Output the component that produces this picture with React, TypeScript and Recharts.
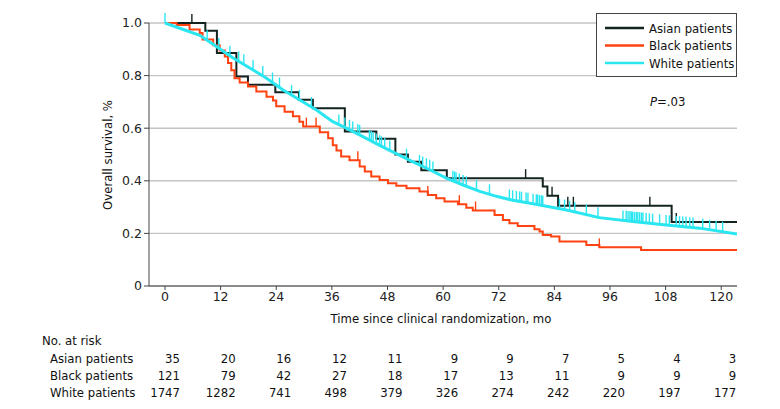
import React from 'react';
import { ComposedChart, Line, Scatter, XAxis, YAxis, CartesianGrid } from 'recharts';

const monthTicks = [0, 12, 24, 36, 48, 60, 72, 84, 96, 108, 120];
const survivalTicks = [0, 0.2, 0.4, 0.6, 0.8, 1.0];
const monthDomain: [number, number] = [-3.45, 123.4];

// Asian patients (Kaplan-Meier steps)
const asianMonths = [0, 8.7, 11.2, 15.4, 17.9, 23.8, 28.9, 31.9, 38.8, 45.6, 49.7, 52.4, 55.3, 60.8, 81.5, 82.5, 84.8, 109.3, 123.4];
const asianSurvival = [1.0, 0.971, 0.886, 0.797, 0.765, 0.737, 0.708, 0.676, 0.587, 0.56, 0.5, 0.472, 0.44, 0.41, 0.378, 0.343, 0.305, 0.243, 0.243];
const asianCensored = [5.8, 77.8, 83.5, 86.9, 88.1, 104.6, 110.3];

// Black patients
const blackMonths = [0, 2.5, 5.3, 7.5, 8.1, 10.4, 11.8, 12.9, 13.6, 14.3, 15.0, 16.1, 17.9, 19.7, 21.9, 23.3, 24.0, 25.8, 27.6, 29.0, 29.8, 33.4, 35.2, 36.2, 37.0, 38.0, 39.8, 42.0, 43.1, 44.5, 46.3, 48.1, 49.9, 52.1, 54.9, 56.7, 58.5, 60.3, 63.2, 65.0, 66.4, 71.1, 72.9, 74.3, 76.1, 79.7, 80.8, 81.5, 83.3, 85.1, 90.9, 93.7, 102.7, 123.4];
const blackSurvival = [1.0, 0.992, 0.975, 0.962, 0.937, 0.915, 0.895, 0.873, 0.848, 0.82, 0.79, 0.774, 0.759, 0.74, 0.72, 0.705, 0.683, 0.663, 0.645, 0.625, 0.606, 0.585, 0.562, 0.535, 0.515, 0.492, 0.478, 0.454, 0.435, 0.416, 0.403, 0.391, 0.381, 0.372, 0.359, 0.346, 0.334, 0.321, 0.311, 0.298, 0.287, 0.27, 0.251, 0.239, 0.228, 0.216, 0.207, 0.194, 0.188, 0.169, 0.156, 0.147, 0.137, 0.137];
const blackCensored = [30.5, 32.6, 41.6, 56.7, 63.5, 67.0, 93.7];

// White patients
const whiteMonths = [0, 3.5, 7.5, 11.1, 14.7, 18.3, 21.9, 25.4, 29.0, 32.6, 36.2, 39.1, 42.7, 46.3, 49.9, 53.5, 57.1, 60.7, 64.3, 67.9, 71.5, 75.0, 79.4, 86.6, 93.7, 100.9, 108.1, 115.3, 123.4];
const whiteSurvival = [1.0, 0.978, 0.953, 0.911, 0.867, 0.829, 0.79, 0.746, 0.708, 0.67, 0.625, 0.6, 0.568, 0.535, 0.503, 0.472, 0.442, 0.41, 0.384, 0.36, 0.341, 0.326, 0.313, 0.289, 0.26, 0.245, 0.232, 0.22, 0.198];
const whiteCensored = [0, 9.1, 11.6, 14.0, 15.9, 17.0, 19.0, 21.1, 23.2, 24.7, 27.3, 29.0, 31.6, 37.5, 38.8, 39.8, 40.5, 41.6, 42.0, 44.1, 44.5, 44.9, 45.6, 46.3, 46.7, 47.4, 48.5, 52.1, 54.9, 55.6, 56.4, 57.1, 57.8, 62.1, 62.5, 62.8, 63.5, 64.3, 65.0, 67.2, 70.0, 74.3, 75.0, 75.8, 76.5, 76.9, 77.9, 78.3, 79.4, 80.1, 80.4, 80.8, 81.2, 81.5, 85.1, 86.2, 87.3, 88.4, 90.9, 93.4, 98.8, 99.5, 99.9, 100.3, 100.6, 100.9, 101.3, 101.7, 102.0, 102.4, 102.8, 103.1, 103.8, 104.5, 105.2, 106.7, 108.1, 108.8, 110.3, 111.0, 111.7, 112.4, 113.2, 113.9, 116.0, 117.5, 118.9, 120.3];

const groupNames = ['Asian patients', 'Black patients', 'White patients'];
const asianAtRisk = [35, 20, 16, 12, 11, 9, 9, 7, 5, 4, 3];
const blackAtRisk = [121, 79, 42, 27, 18, 17, 13, 11, 9, 9, 9];
const whiteAtRisk = [1747, 1282, 741, 498, 379, 326, 274, 242, 220, 197, 177];

const COLORS = ['#13231f', '#ff4211', '#2ae6f0'];
const condensed = "'DejaVu Sans Condensed', 'DejaVu Sans', sans-serif";
const tickFont = "'DejaVu Sans', sans-serif";

// plot box in pixels
const PLOT_LEFT = 149;
const PLOT_RIGHT = 737;
const monthToX = (t: number) =>
  PLOT_LEFT + ((t - monthDomain[0]) / (monthDomain[1] - monthDomain[0])) * (PLOT_RIGHT - PLOT_LEFT);

const toPoints = (months: number[], surv: number[]) => months.map((t, i) => ({ t, s: surv[i] }));

const stepAt = (months: number[], surv: number[], t: number) => {
  let v = surv[0];
  for (let i = 0; i < months.length; i++) if (months[i] <= t) v = surv[i];
  return v;
};

const lineAt = (months: number[], surv: number[], t: number) => {
  for (let i = 1; i < months.length; i++) {
    if (t <= months[i]) {
      const f = (t - months[i - 1]) / (months[i] - months[i - 1]);
      return surv[i - 1] + f * (surv[i] - surv[i - 1]);
    }
  }
  return surv[surv.length - 1];
};

const asianData = toPoints(asianMonths, asianSurvival);
const blackData = toPoints(blackMonths, blackSurvival);
const whiteData = toPoints(whiteMonths, whiteSurvival);

const asianMarks = asianCensored.map(t => ({ t, s: stepAt(asianMonths, asianSurvival, t) }));
const blackMarks = blackCensored.map(t => ({ t, s: stepAt(blackMonths, blackSurvival, t) }));
const whiteMarks = whiteCensored.map(t => ({ t, s: lineAt(whiteMonths, whiteSurvival, t) }));

const censorTick = (color: string, h: number) => (props: any) => {
  const { cx, cy } = props;
  if (cx == null || cy == null) return <g />;
  return <line x1={cx} x2={cx} y1={cy} y2={cy - h} stroke={color} strokeWidth={1.4} />;
};

const riskRows = [asianAtRisk, blackAtRisk, whiteAtRisk];

const App: React.FC = () => {
  return (
    <div style={{ position: 'relative', width: 780, height: 409, background: '#fff', overflow: 'hidden' }}>
      <style>{'body{margin:0;}'}</style>
      <div style={{ position: 'absolute', left: 0, top: 0 }}>
        <ComposedChart width={780} height={326} margin={{ top: 23, right: 43, bottom: 0, left: 0 }}>
          <CartesianGrid vertical={false} stroke="#c4c4c4" strokeWidth={1.4} />
          <XAxis
            type="number"
            dataKey="t"
            domain={monthDomain}
            ticks={monthTicks}
            allowDataOverflow
            height={40}
            tickSize={4}
            stroke="#444"
            tick={{ fontSize: 12.5, fill: '#222', fontFamily: tickFont }}
          />
          <YAxis
            type="number"
            dataKey="s"
            domain={[0, 1]}
            ticks={survivalTicks}
            width={149}
            tickSize={5}
            stroke="#444"
            tickFormatter={(v: number) => (v === 0 ? '0' : v.toFixed(1))}
            tick={{ fontSize: 12.5, fill: '#222', fontFamily: tickFont }}
          />
          <Line data={asianData} dataKey="s" type="stepAfter" stroke={COLORS[0]} strokeWidth={2} dot={false} isAnimationActive={false} />
          <Line data={blackData} dataKey="s" type="stepAfter" stroke={COLORS[1]} strokeWidth={2} dot={false} isAnimationActive={false} />
          <Line data={whiteData} dataKey="s" type="linear" stroke={COLORS[2]} strokeWidth={3} dot={false} isAnimationActive={false} />
          <Scatter data={asianMarks} dataKey="s" shape={censorTick(COLORS[0], 9)} isAnimationActive={false} />
          <Scatter data={blackMarks} dataKey="s" shape={censorTick(COLORS[1], 9)} isAnimationActive={false} />
          <Scatter data={whiteMarks} dataKey="s" shape={censorTick(COLORS[2], 10)} isAnimationActive={false} />
        </ComposedChart>
      </div>
      <svg width={780} height={409} style={{ position: 'absolute', left: 0, top: 0, pointerEvents: 'none' }}>
        <g fontFamily={condensed} fontSize={13} fill="#111" style={{ fontStretch: 'condensed' }}>
          <text transform="translate(112,155) rotate(-90)" textAnchor="middle">Overall survival, %</text>
          <text x={441} y={323} textAnchor="middle">Time since clinical randomization, mo</text>

          {/* legend */}
          <rect x={596.5} y={13.5} width={140} height={63} fill="#fff" stroke="#444" strokeWidth={1} />
          {groupNames.map((name, i) => (
            <g key={name}>
              <line x1={605} x2={644} y1={28 + i * 17.5} y2={28 + i * 17.5} stroke={COLORS[i]} strokeWidth={2.5} />
              <text x={649} y={32.5 + i * 17.5}>{name}</text>
            </g>
          ))}

          <text x={650} y={106}>
            <tspan fontStyle="italic">P</tspan>=.03
          </text>

          {/* number at risk */}
          <text x={42} y={345}>No. at risk</text>
          {groupNames.map((name, i) => (
            <g key={'row' + name}>
              <text x={50} y={363 + i * 17}>{name}</text>
              {riskRows[i].map((n, j) => (
                <text key={j} x={monthToX(monthTicks[j]) + 15} y={363 + i * 17} textAnchor="end">{n}</text>
              ))}
            </g>
          ))}
        </g>
      </svg>
    </div>
  );
};

export default App;
